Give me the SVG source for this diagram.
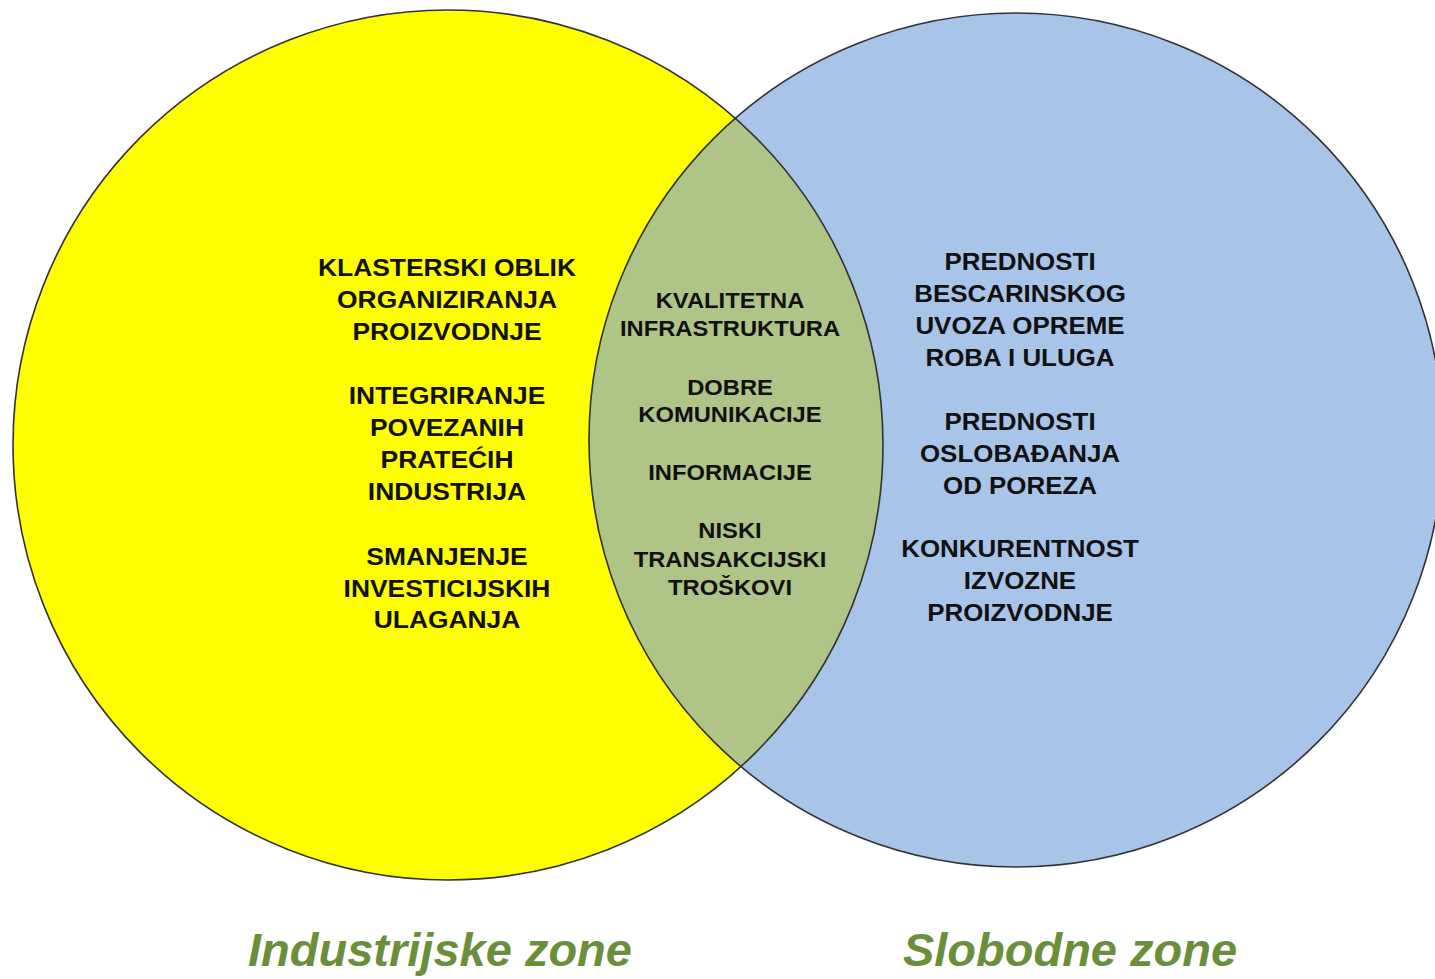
<svg xmlns="http://www.w3.org/2000/svg" width="1435" height="979" viewBox="0 0 1435 979">
  <style>
    .bg { fill: #ffffff; }
    .outline { fill: none; stroke: #333333; stroke-width: 1.6; }
    .t { font-family: "Liberation Sans", Arial, sans-serif; font-weight: bold; fill: #111111; text-anchor: middle; }
    .big { font-size: 24px; }
    .mid { font-size: 22px; }
    .label { font-family: "Liberation Sans", Arial, sans-serif; font-weight: bold; font-style: italic; font-size: 47px; fill: #6B8E3A; text-anchor: middle; }
  </style>
  <defs>
    <clipPath id="clipLeft">
      <circle cx="448" cy="445" r="435"/>
    </clipPath>
  </defs>
  <rect class="bg" x="0" y="0" width="1435" height="979"/>

  <g id="industrijske-zone">
    <circle cx="448" cy="445" r="435" fill="#FFFF00"/>
  </g>
  <g id="slobodne-zone">
    <circle cx="1016" cy="440" r="427" fill="#A8C4E8"/>
  </g>
  <g id="presjek">
    <circle cx="1016" cy="440" r="427" fill="#AFC487" clip-path="url(#clipLeft)"/>
  </g>
  <g id="outlines">
    <circle class="outline" cx="448" cy="445" r="435"/>
    <circle class="outline" cx="1016" cy="440" r="427"/>
  </g>

  <g id="left-text" transform="translate(447 0) scale(1.1 1)">
    <text class="t big" x="0" y="276">KLASTERSKI OBLIK</text>
    <text class="t big" x="0" y="308">ORGANIZIRANJA</text>
    <text class="t big" x="0" y="340">PROIZVODNJE</text>
    <text class="t big" x="0" y="404">INTEGRIRANJE</text>
    <text class="t big" x="0" y="436">POVEZANIH</text>
    <text class="t big" x="0" y="468">PRATEĆIH</text>
    <text class="t big" x="0" y="500">INDUSTRIJA</text>
    <text class="t big" x="0" y="565">SMANJENJE</text>
    <text class="t big" x="0" y="597">INVESTICIJSKIH</text>
    <text class="t big" x="0" y="628">ULAGANJA</text>
  </g>

  <g id="center-text" transform="translate(730 0) scale(1.08 1)">
    <text class="t mid" x="0" y="308">KVALITETNA</text>
    <text class="t mid" x="0" y="336">INFRASTRUKTURA</text>
    <text class="t mid" x="0" y="395">DOBRE</text>
    <text class="t mid" x="0" y="422">KOMUNIKACIJE</text>
    <text class="t mid" x="0" y="480">INFORMACIJE</text>
    <text class="t mid" x="0" y="538">NISKI</text>
    <text class="t mid" x="0" y="567">TRANSAKCIJSKI</text>
    <text class="t mid" x="0" y="595">TROŠKOVI</text>
  </g>

  <g id="right-text" transform="translate(1020 0) scale(1.08 1)">
    <text class="t big" x="0" y="270">PREDNOSTI</text>
    <text class="t big" x="0" y="302">BESCARINSKOG</text>
    <text class="t big" x="0" y="334">UVOZA OPREME</text>
    <text class="t big" x="0" y="366">ROBA I ULUGA</text>
    <text class="t big" x="0" y="430">PREDNOSTI</text>
    <text class="t big" x="0" y="462">OSLOBAĐANJA</text>
    <text class="t big" x="0" y="494">OD POREZA</text>
    <text class="t big" x="0" y="557">KONKURENTNOST</text>
    <text class="t big" x="0" y="589">IZVOZNE</text>
    <text class="t big" x="0" y="621">PROIZVODNJE</text>
  </g>

  <g id="labels">
    <text class="label" x="440" y="966">Industrijske zone</text>
    <text class="label" x="1070" y="966">Slobodne zone</text>
  </g>
</svg>
